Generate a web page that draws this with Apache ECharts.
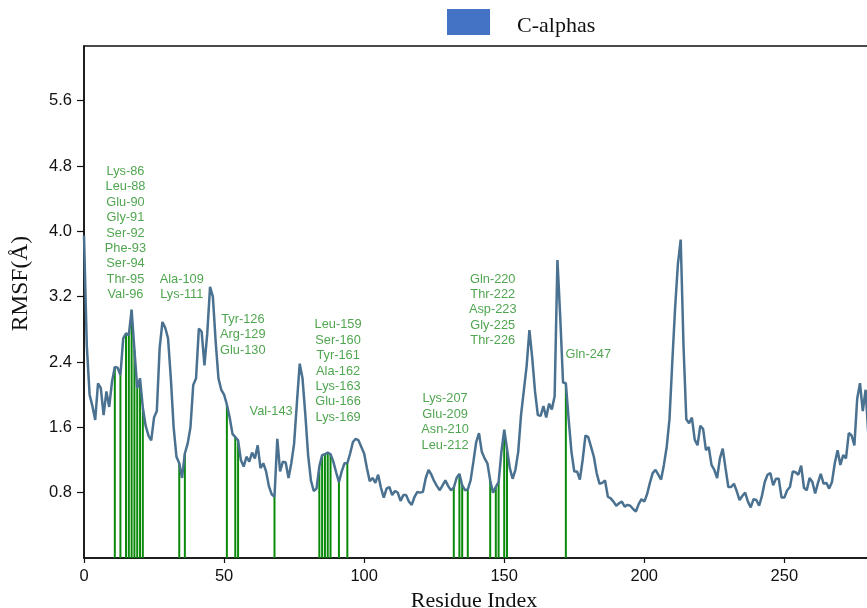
<!DOCTYPE html>
<html>
<head>
<meta charset="utf-8">
<script src="https://cdn.jsdelivr.net/npm/echarts@6/dist/echarts.min.js"></script>
<style>
  html, body { margin: 0; padding: 0; background: #ffffff; }
  #chart { width: 867px; height: 608px; }
</style>
</head>
<body>
<div id="chart"></div>
<script>
// Per-residue C-alpha RMSF (Å), indexed from 0
const rmsf = [
  3.95, 2.60, 2.00, 1.86, 1.69, 2.14, 2.08, 1.75, 2.04, 1.85,
  2.16, 2.34, 2.33, 2.24, 2.69, 2.75, 2.73, 3.04, 2.55, 2.08,
  2.20, 1.84, 1.62, 1.50, 1.44, 1.72, 1.80, 2.57, 2.89, 2.82,
  2.69, 2.20, 1.60, 1.24, 1.16, 0.98, 1.28, 1.40, 1.60, 2.12,
  2.20, 2.81, 2.77, 2.36, 2.75, 3.32, 3.20, 2.65, 2.20, 2.06,
  2.00, 1.88, 1.72, 1.52, 1.48, 1.44, 1.20, 1.12, 1.24, 1.18,
  1.29, 1.22, 1.38, 1.10, 1.16, 1.06, 0.88, 0.78, 0.75, 1.46,
  1.06, 1.18, 1.17, 0.98, 1.16, 1.40, 1.90, 2.38, 2.20, 1.76,
  1.26, 0.95, 0.82, 0.85, 1.12, 1.26, 1.27, 1.29, 1.27, 1.18,
  1.05, 0.93, 1.06, 1.16, 1.16, 1.28, 1.42, 1.46, 1.44, 1.36,
  1.28, 1.10, 0.94, 0.98, 0.92, 1.02, 0.86, 0.74, 0.85, 0.87,
  0.77, 0.82, 0.80, 0.70, 0.77, 0.77, 0.69, 0.65, 0.75, 0.81,
  0.80, 0.81, 0.98, 1.08, 1.02, 0.94, 0.88, 0.83, 0.89, 0.95,
  0.88, 0.83, 0.86, 0.98, 1.03, 0.89, 0.83, 0.84, 0.95, 1.18,
  1.42, 1.53, 1.30, 1.22, 1.16, 0.95, 0.80, 0.87, 0.93, 1.30,
  1.57, 1.34, 1.10, 0.97, 1.08, 1.30, 1.75, 2.05, 2.35, 2.79,
  2.45, 2.04, 1.75, 1.74, 1.86, 1.72, 1.89, 1.82, 1.98, 3.65,
  2.95, 2.15, 2.14, 1.70, 1.30, 1.06, 1.06, 0.96, 1.20, 1.50,
  1.48, 1.36, 1.24, 1.04, 0.91, 0.92, 0.95, 0.75, 0.73, 0.69,
  0.64, 0.67, 0.69, 0.63, 0.65, 0.64, 0.60, 0.57, 0.66, 0.72,
  0.69, 0.78, 0.92, 1.04, 1.08, 1.02, 0.96, 1.14, 1.36, 1.70,
  2.40, 3.06, 3.60, 3.90, 2.60, 1.70, 1.65, 1.72, 1.45, 1.38,
  1.62, 1.58, 1.32, 1.36, 1.14, 1.08, 0.98, 1.22, 1.34, 1.10,
  0.87, 0.87, 0.91, 0.82, 0.71, 0.76, 0.80, 0.69, 0.62, 0.72,
  0.71, 0.64, 0.76, 0.93, 1.02, 1.04, 0.89, 0.97, 0.97, 0.74,
  0.74, 0.83, 0.87, 1.06, 1.05, 1.02, 1.13, 0.86, 0.83, 0.98,
  0.93, 0.79, 0.92, 1.03, 0.91, 0.92, 0.85, 0.93, 1.16, 1.32,
  1.14, 1.26, 1.22, 1.53, 1.50, 1.38, 1.95, 2.14, 1.80, 2.06,
  1.50, 1.40, 1.45
];

// Residue numbering starts at this value for index 0
const residueOffset = 75;

// Contact residues (sequence numbers), highlighted as vertical bars
const contactResidues = [
  86, 88, 90, 91, 92, 93, 94, 95, 96,
  109, 111,
  126, 129, 130,
  143,
  159, 160, 161, 162, 163, 166, 169,
  207, 209, 210, 212,
  220, 222, 223, 225, 226,
  247
];

// Annotation groups: text lines and anchor (residue index, RMSF at text bottom)
const groupLabels = [
  ['Lys-86', 'Leu-88', 'Glu-90', 'Gly-91', 'Ser-92', 'Phe-93', 'Ser-94', 'Thr-95', 'Val-96'],
  ['Ala-109', 'Lys-111'],
  ['Tyr-126', 'Arg-129', 'Glu-130'],
  ['Val-143'],
  ['Leu-159', 'Ser-160', 'Tyr-161', 'Ala-162', 'Lys-163', 'Glu-166', 'Lys-169'],
  ['Lys-207', 'Glu-209', 'Asn-210', 'Leu-212'],
  ['Gln-220', 'Thr-222', 'Asp-223', 'Gly-225', 'Thr-226'],
  ['Gln-247']
];
const groupAnchorX = [14.8, 34.9, 56.7, 66.8, 90.7, 128.9, 145.9, 180.0];
const groupAnchorY = [3.13, 3.13, 2.45, 1.705, 1.628, 1.289, 2.566, 2.40];

// Axis ticks
const xTicks = [0, 50, 100, 150, 200, 250];
const yTicks = [0.8, 1.6, 2.4, 3.2, 4.0, 4.8, 5.6];

const lineData = rmsf.map((v, i) => [i, v]);
const barData = contactResidues.map(r => {
  const i = r - residueOffset;
  return [i, rmsf[i]];
});
const labelData = groupLabels.map((lines, k) => ({
  value: [groupAnchorX[k], groupAnchorY[k]],
  name: lines.join('\n')
}));

const chart = echarts.init(document.getElementById('chart'), null, { renderer: 'canvas' });

chart.setOption({
  animation: false,
  backgroundColor: '#ffffff',
  grid: {
    left: 84,
    top: 46,
    width: 790,
    height: 512,
    outerBoundsMode: 'none',
    containLabel: false,
    show: true,
    borderColor: '#111111',
    borderWidth: 1.5,
    backgroundColor: 'transparent'
  },
  legend: {
    left: 442,
    top: 4,
    itemWidth: 43,
    itemHeight: 26,
    icon: 'rect',
    data: [{ name: 'C-alphas', itemStyle: { color: '#4472C4', borderWidth: 0 } }],
    formatter: name => '{t|' + name + '}',
    textStyle: {
      fontFamily: 'Liberation Serif',
      fontSize: 22,
      color: '#111111',
      rich: {
        t: {
          fontFamily: 'Liberation Serif',
          fontSize: 22,
          color: '#111111',
          padding: [9, 0, 0, 22]
        }
      }
    }
  },
  xAxis: {
    type: 'value',
    min: 0,
    max: 282,
    interval: 50,
    name: 'Residue Index',
    nameLocation: 'middle',
    nameGap: 26,
    nameTextStyle: {
      fontFamily: 'Liberation Serif',
      fontSize: 22,
      color: '#111111',
      padding: [0, 10, 0, 0]
    },
    axisLine: { show: true, onZero: false, lineStyle: { color: '#111111', width: 1.5 } },
    axisTick: { show: true, length: 5, lineStyle: { color: '#111111', width: 1.2 } },
    axisLabel: {
      show: true,
      margin: 10,
      fontFamily: 'Liberation Sans',
      fontSize: 16.5,
      color: '#111111',
      showMaxLabel: false,
      formatter: v => (xTicks.indexOf(v) >= 0 ? String(v) : '')
    },
    splitLine: { show: false }
  },
  yAxis: {
    type: 'value',
    min: 0,
    max: 6.27,
    interval: 0.8,
    axisLine: { show: true, onZero: false, lineStyle: { color: '#111111', width: 1.5 } },
    axisTick: { show: true, length: 7, lineStyle: { color: '#111111', width: 1.2 } },
    axisLabel: {
      show: true,
      margin: 12,
      fontFamily: 'Liberation Sans',
      fontSize: 16.5,
      color: '#111111',
      showMinLabel: false,
      showMaxLabel: false,
      formatter: v => {
        const hit = yTicks.find(t => Math.abs(t - v) < 1e-6);
        return hit !== undefined ? hit.toFixed(1) : '';
      }
    },
    splitLine: { show: false }
  },
  graphic: [{
    type: 'text',
    left: 9,
    top: 236,
    rotation: Math.PI / 2,
    style: {
      text: 'RMSF(Å)',
      fontFamily: 'Liberation Serif',
      fontSize: 23.5,
      fill: '#111111'
    }
  }],
  series: [
    {
      name: 'Contacts',
      type: 'bar',
      data: barData,
      barWidth: 2,
      itemStyle: { color: '#0a8a0a' },
      z: 2,
      silent: true
    },
    {
      name: 'C-alphas',
      type: 'line',
      data: lineData,
      showSymbol: false,
      symbol: 'none',
      lineStyle: { color: '#4a7190', width: 2.5 },
      itemStyle: { color: '#4a7190' },
      z: 3,
      silent: true
    },
    {
      name: 'Residue labels',
      type: 'scatter',
      data: labelData,
      symbolSize: 0,
      z: 4,
      silent: true,
      label: {
        show: true,
        position: 'top',
        distance: 0,
        formatter: p => p.name,
        fontFamily: 'Liberation Sans',
        fontSize: 12.8,
        lineHeight: 15.4,
        align: 'center',
        color: '#248f24'
      }
    }
  ]
});
</script>
</body>
</html>
